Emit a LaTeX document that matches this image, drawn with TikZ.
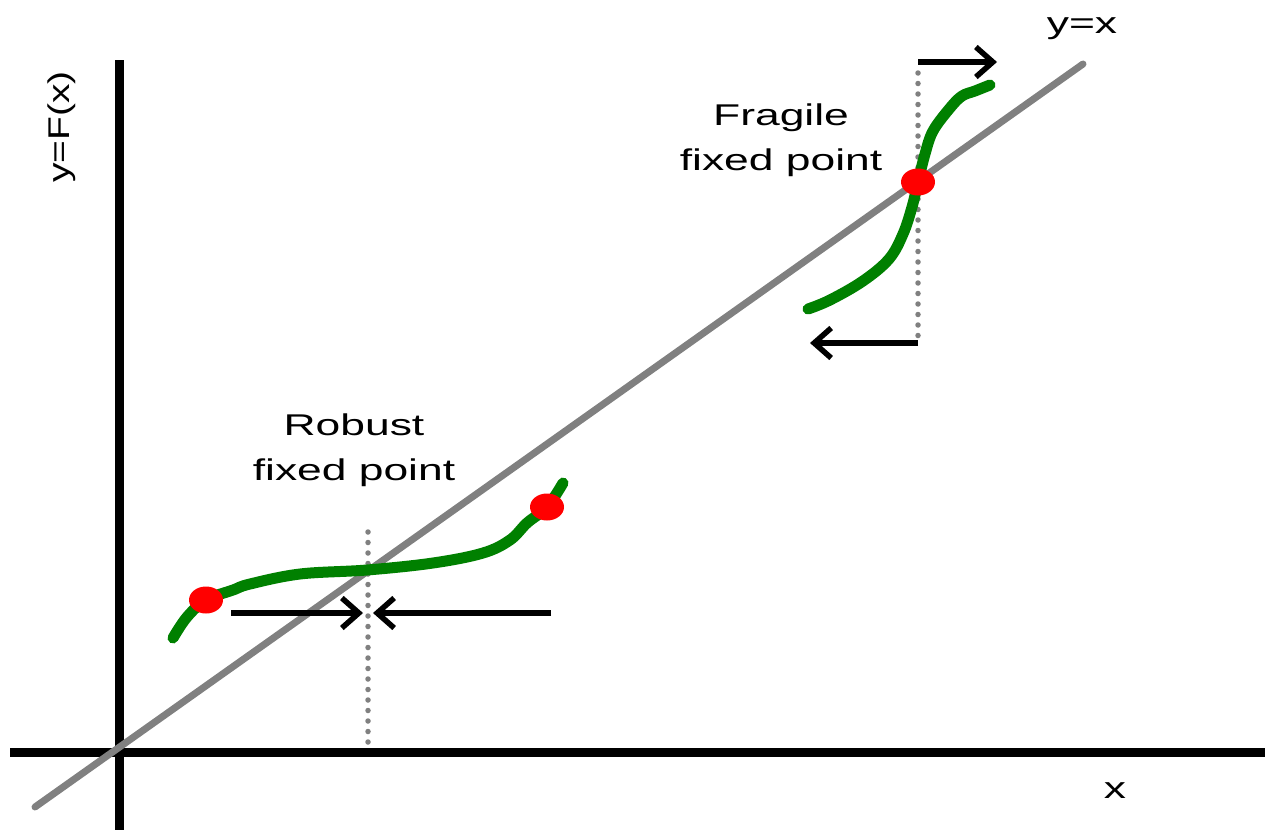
\documentclass[tikz,border=0pt]{standalone}
\usepackage{fontspec}
\setmainfont{Liberation Sans}
\usetikzlibrary{arrows.meta,shapes.geometric}
\definecolor{curvegreen}{RGB}{0,128,0}
\definecolor{dotred}{RGB}{255,0,0}
\definecolor{linegray}{RGB}{128,128,128}
\tikzset{
  axis/.style={line width=9pt,black},
  diag/.style={line width=7pt,linegray,line cap=round},
  fcurve/.style={line width=11pt,curvegreen,line cap=round,line join=round},
  fixpt/.style={ellipse,fill=dotred,minimum width=34pt,minimum height=27pt,inner sep=0pt},
  guide/.style={line width=5.5pt,linegray,line cap=round,dash pattern=on 0pt off 10.5pt},
  flow/.style={line width=5.5pt,black,-{Straight Barb[length=17pt,width=30pt]}},
  lbl/.style={font=\fontsize{30}{45}\selectfont,inner sep=0pt,align=center,xscale=1.48},
}
\begin{document}
\begin{tikzpicture}[x=1pt,y=-1pt]
\useasboundingbox (0,0) rectangle (1265,830);
% axes
\coordinate (ytop) at (119,60);
\coordinate (ybot) at (119,830);
\coordinate (xl) at (10,752);
\coordinate (xr) at (1265,752);
\draw[axis] (ytop) -- (ybot);
\draw[axis] (xl) -- (xr);
% diagonal y=x
\coordinate (d0) at (35,807);
\coordinate (d1) at (1083,64);
\draw[diag] (d0) -- (d1);
% guide lines
\coordinate (g1t) at (368,532);
\coordinate (g1b) at (368,747);
\draw[guide] (g1t) -- (g1b);
\coordinate (g2t) at (918,73);
\coordinate (g2b) at (918,343);
\draw[guide] (g2t) -- (g2b);
% green curves
\draw[fcurve] plot[smooth,tension=0.6] coordinates {(173,638) (187,617) (206,600) (233,590) (250,584) (300,574) (367,570) (433,563) (483,553) (510,540) (527,523) (547,507) (563,483)};
\draw[fcurve] plot[smooth,tension=0.6] coordinates {(808,309) (830,300) (863,281) (889,259) (903,234) (912,207) (918,182) (925,154) (933,131) (950,108) (962,96) (975,91) (990,85)};
% fixed points
\node[fixpt] (p1) at (206,600) {};
\node[fixpt] (p2) at (547,507) {};
\node[fixpt] (p3) at (918,182) {};
% arrows
\coordinate (a1s) at (231,613);
\coordinate (a1e) at (363,613);
\coordinate (a2s) at (551,613);
\coordinate (a2e) at (373,613);
\draw[flow] (a1s) -- (a1e);
\draw[flow] (a2s) -- (a2e);
\coordinate (a3e) at (997,62);
\coordinate (a4e) at (810,343);
\draw[flow] (g2t |- a3e) -- (a3e);
\draw[flow] (g2b) -- (a4e);
% labels
\node[lbl] (robust) at (354,450) {Robust\\fixed point};
\node[lbl] (fragile) at (781,140) {Fragile\\fixed point};
\node[lbl,anchor=base] (yx) at (1082,33) {y=x};
\node[lbl,anchor=base] (xlab) at (1115,798) {x};
\node[font=\fontsize{30}{45}\selectfont,inner sep=0pt,rotate=90,xscale=1.3] (ylab) at (62,127) {y=F(x)};
\end{tikzpicture}
\end{document}
